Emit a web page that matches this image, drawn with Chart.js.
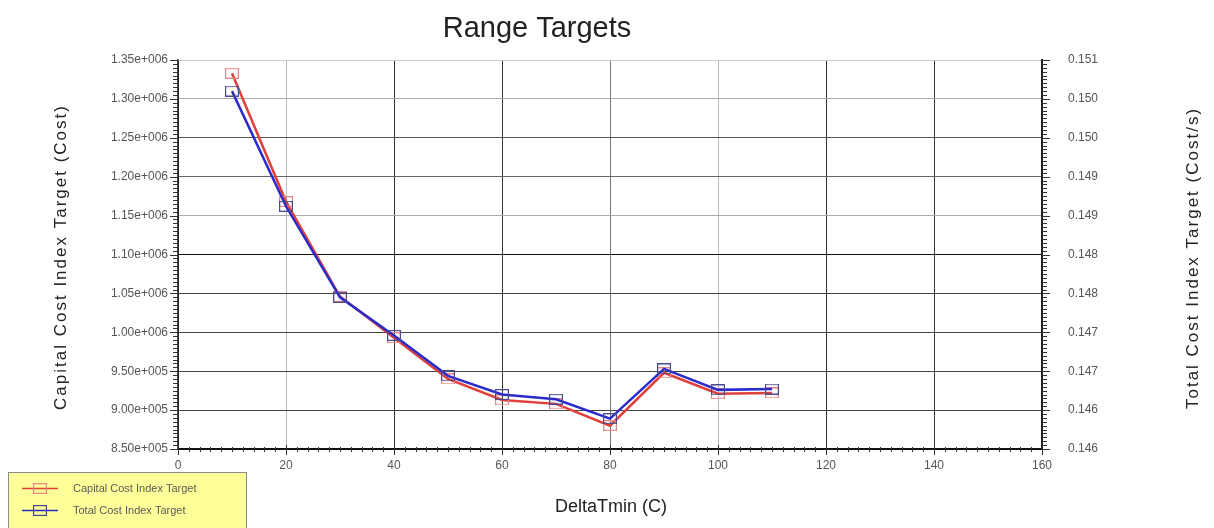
<!DOCTYPE html>
<html>
<head>
<meta charset="utf-8">
<title>Range Targets</title>
<script src="https://cdn.jsdelivr.net/npm/chart.js@4/dist/chart.umd.min.js"></script>
<style>
  html, body { margin: 0; padding: 0; background: #ffffff; }
  #chart { display: block; }
</style>
</head>
<body>
<canvas id="chart" width="1214" height="528"></canvas>
<script>
// DeltaTmin values (C) at which the targets were evaluated
const deltaTmin = [10, 20, 30, 40, 50, 60, 70, 80, 90, 100, 110];

// Capital cost index target (Cost), left axis
const capitalCostTarget = [1333000, 1168000, 1046000, 993000, 940000, 913000, 908000, 880000, 948000, 921000, 922000];

// Total cost index target (Cost/s), right axis
const totalCostTarget = [0.15060, 0.14912, 0.14795, 0.14746, 0.14694, 0.14670, 0.14664, 0.14639, 0.14703, 0.14676, 0.14677];

// Axis ranges and tick steps
const xTicks = [0, 20, 40, 60, 80, 100, 120, 140, 160];
const capitalAxis = [850000, 1350000, 50000];
const totalAxis = [0.146, 0.151, 0.0005];

const seriesNames = ['Capital Cost Index Target', 'Total Cost Index Target'];

const FONT = '"Liberation Sans", Arial, sans-serif';

// Hollow rectangular marker used for the data points and the legend
function boxMarker(color) {
  const c = document.createElement('canvas');
  c.width = 14; c.height = 11;
  const g = c.getContext('2d');
  g.strokeStyle = color;
  g.lineWidth = 1.2;
  g.strokeRect(0.6, 0.6, 12.8, 9.8);
  return c;
}

const redLine = '#e0403a', redMark = '#e88484';
const blueLine = '#2b2bcc', blueMark = '#4a4a90';
const redMarker = boxMarker(redMark);
const blueMarker = boxMarker(blueMark);

// Exponent written with three digits, e.g. 1.35e+006
function sciLabel(v) {
  const s = Number(v).toExponential(2);
  const parts = s.split('e');
  const sign = parts[1][0];
  const digits = parts[1].slice(1).padStart(3, '0');
  return parts[0] + 'e' + sign + digits;
}

// Three decimals, truncated
function truncLabel(v) {
  return (Math.floor(v * 1000 + 1e-6) / 1000).toFixed(3);
}

// Gridline shades
const hGridShades = ['#000000', '#444444', '#444444', '#444444', '#444444', '#111111', '#aaaaaa', '#666666', '#555555', '#aaaaaa', '#cccccc'];
const vGridShades = ['#000000', '#bbbbbb', '#333333', '#333333', '#777777', '#bbbbbb', '#333333', '#333333', '#222222'];

// Minor and major tick marks on the outside of each axis
const minorTicks = {
  id: 'minorTicks',
  afterDraw(chart) {
    const ctx = chart.ctx;
    const a = chart.chartArea;
    const ys = chart.scales.y, y2 = chart.scales.y2, xs = chart.scales.x;
    ctx.save();
    ctx.strokeStyle = '#333333';
    ctx.lineWidth = 1;
    ctx.beginPath();
    const yStep = capitalAxis[2] / 10;
    for (let i = 0; capitalAxis[0] + i * yStep <= capitalAxis[1] + 1; i++) {
      const p = Math.round(ys.getPixelForValue(capitalAxis[0] + i * yStep)) + 0.5;
      const len = i % 10 === 0 ? 8 : 5;
      ctx.moveTo(a.left - len, p); ctx.lineTo(a.left, p);
    }
    const y2Step = totalAxis[2] / 10;
    for (let i = 0; totalAxis[0] + i * y2Step <= totalAxis[1] + 1e-9; i++) {
      const p = Math.round(y2.getPixelForValue(totalAxis[0] + i * y2Step)) + 0.5;
      const len = i % 10 === 0 ? 8 : 5;
      ctx.moveTo(a.right, p); ctx.lineTo(a.right + len, p);
    }
    for (let i = 0; i <= 80; i++) {
      const p = Math.round(xs.getPixelForValue(i * 2)) + 0.5;
      if (i % 10 === 0) {
        ctx.moveTo(p, a.bottom - 4); ctx.lineTo(p, a.bottom + 6);
      } else {
        ctx.moveTo(p, a.bottom - 2); ctx.lineTo(p, a.bottom + 3);
      }
    }
    ctx.stroke();
    ctx.restore();
  }
};

// Chart title and axis titles
const titles = {
  id: 'titles',
  afterDraw(chart) {
    const ctx = chart.ctx;
    ctx.save();
    ctx.fillStyle = '#222222';
    ctx.textAlign = 'center';
    ctx.textBaseline = 'alphabetic';

    ctx.font = '29px ' + FONT;
    ctx.fillText('Range Targets', 537, 37);

    ctx.font = '18px ' + FONT;
    ctx.fillText('DeltaTmin (C)', 611, 512);

    ctx.font = '17px ' + FONT;
    if ('letterSpacing' in ctx) ctx.letterSpacing = '2px';
    ctx.save();
    ctx.translate(66, 257);
    ctx.rotate(-Math.PI / 2);
    ctx.fillText('Capital Cost Index Target (Cost)', 0, 0);
    ctx.restore();

    ctx.save();
    ctx.translate(1198, 258);
    ctx.rotate(-Math.PI / 2);
    ctx.fillText('Total Cost Index Target (Cost/s)', 0, 0);
    ctx.restore();
    ctx.restore();
  }
};

// Boxed legend in the lower left corner
const boxLegend = {
  id: 'boxLegend',
  afterDraw(chart) {
    const ctx = chart.ctx;
    ctx.save();
    ctx.fillStyle = '#ffff99';
    ctx.fillRect(8, 472, 238, 60);
    ctx.strokeStyle = '#8a8a8a';
    ctx.lineWidth = 1;
    ctx.strokeRect(8.5, 472.5, 238, 60);
    const rows = [488, 510];
    chart.data.datasets.slice().sort((p, q) => p.legendIndex - q.legendIndex).forEach((ds, i) => {
      const y = rows[i];
      ctx.strokeStyle = ds.borderColor;
      ctx.lineWidth = 1.5;
      ctx.beginPath();
      ctx.moveTo(22, y + 0.5); ctx.lineTo(58, y + 0.5);
      ctx.stroke();
      ctx.drawImage(ds.pointStyle, 40 - 7, y - 5);
      ctx.fillStyle = '#5a5a5a';
      ctx.font = '11px ' + FONT;
      ctx.textAlign = 'left';
      ctx.textBaseline = 'middle';
      ctx.fillText(ds.label, 73, y + 1);
    });
    ctx.restore();
  }
};

const chart = new Chart(document.getElementById('chart'), {
  type: 'line',
  data: {
    datasets: [
      {
        label: seriesNames[0],
        legendIndex: 0,
        data: deltaTmin.map((x, i) => ({ x: x, y: capitalCostTarget[i] })),
        yAxisID: 'y',
        borderColor: redLine,
        borderWidth: 2.5,
        pointStyle: redMarker,
        pointRadius: 6,
        tension: 0,
        fill: false,
        order: 2
      },
      {
        label: seriesNames[1],
        legendIndex: 1,
        data: deltaTmin.map((x, i) => ({ x: x, y: totalCostTarget[i] })),
        yAxisID: 'y2',
        borderColor: blueLine,
        borderWidth: 2.5,
        pointStyle: blueMarker,
        pointRadius: 6,
        tension: 0,
        fill: false,
        order: 1
      }
    ]
  },
  options: {
    responsive: false,
    devicePixelRatio: 1,
    animation: false,
    events: [],
    layout: { padding: { top: 60, left: 0, right: 0, bottom: 0 } },
    plugins: {
      legend: { display: false },
      title: { display: false },
      tooltip: { enabled: false }
    },
    scales: {
      x: {
        type: 'linear',
        position: 'bottom',
        min: xTicks[0],
        max: xTicks[xTicks.length - 1],
        afterBuildTicks(scale) { scale.ticks = xTicks.map(v => ({ value: v })); },
        afterFit(scale) { scale.height = 79; },
        ticks: {
          padding: 9,
          color: '#555555',
          font: { family: FONT, size: 12 },
          maxRotation: 0,
          autoSkip: false
        },
        grid: {
          drawTicks: false,
          lineWidth: 1,
          color: (c) => vGridShades[c.index] || '#888888'
        },
        border: { display: true, color: '#111111', width: 2 }
      },
      y: {
        type: 'linear',
        position: 'left',
        min: capitalAxis[0],
        max: capitalAxis[1],
        afterFit(scale) { scale.width = 178; },
        ticks: {
          stepSize: capitalAxis[2],
          padding: 10,
          color: '#555555',
          font: { family: FONT, size: 12 },
          autoSkip: false,
          callback: (v) => sciLabel(v)
        },
        grid: {
          drawTicks: false,
          lineWidth: 1,
          color: (c) => hGridShades[c.index] || '#888888'
        },
        border: { display: true, color: '#444444', width: 1.5 }
      },
      y2: {
        type: 'linear',
        position: 'right',
        min: totalAxis[0],
        max: totalAxis[1],
        afterFit(scale) { scale.width = 172; },
        ticks: {
          stepSize: totalAxis[2],
          padding: 26,
          color: '#555555',
          font: { family: FONT, size: 12 },
          autoSkip: false,
          callback: (v) => truncLabel(v)
        },
        grid: { drawTicks: false, drawOnChartArea: false },
        border: { display: true, color: '#222222', width: 2 }
      }
    }
  },
  plugins: [minorTicks, titles, boxLegend]
});
</script>
</body>
</html>
